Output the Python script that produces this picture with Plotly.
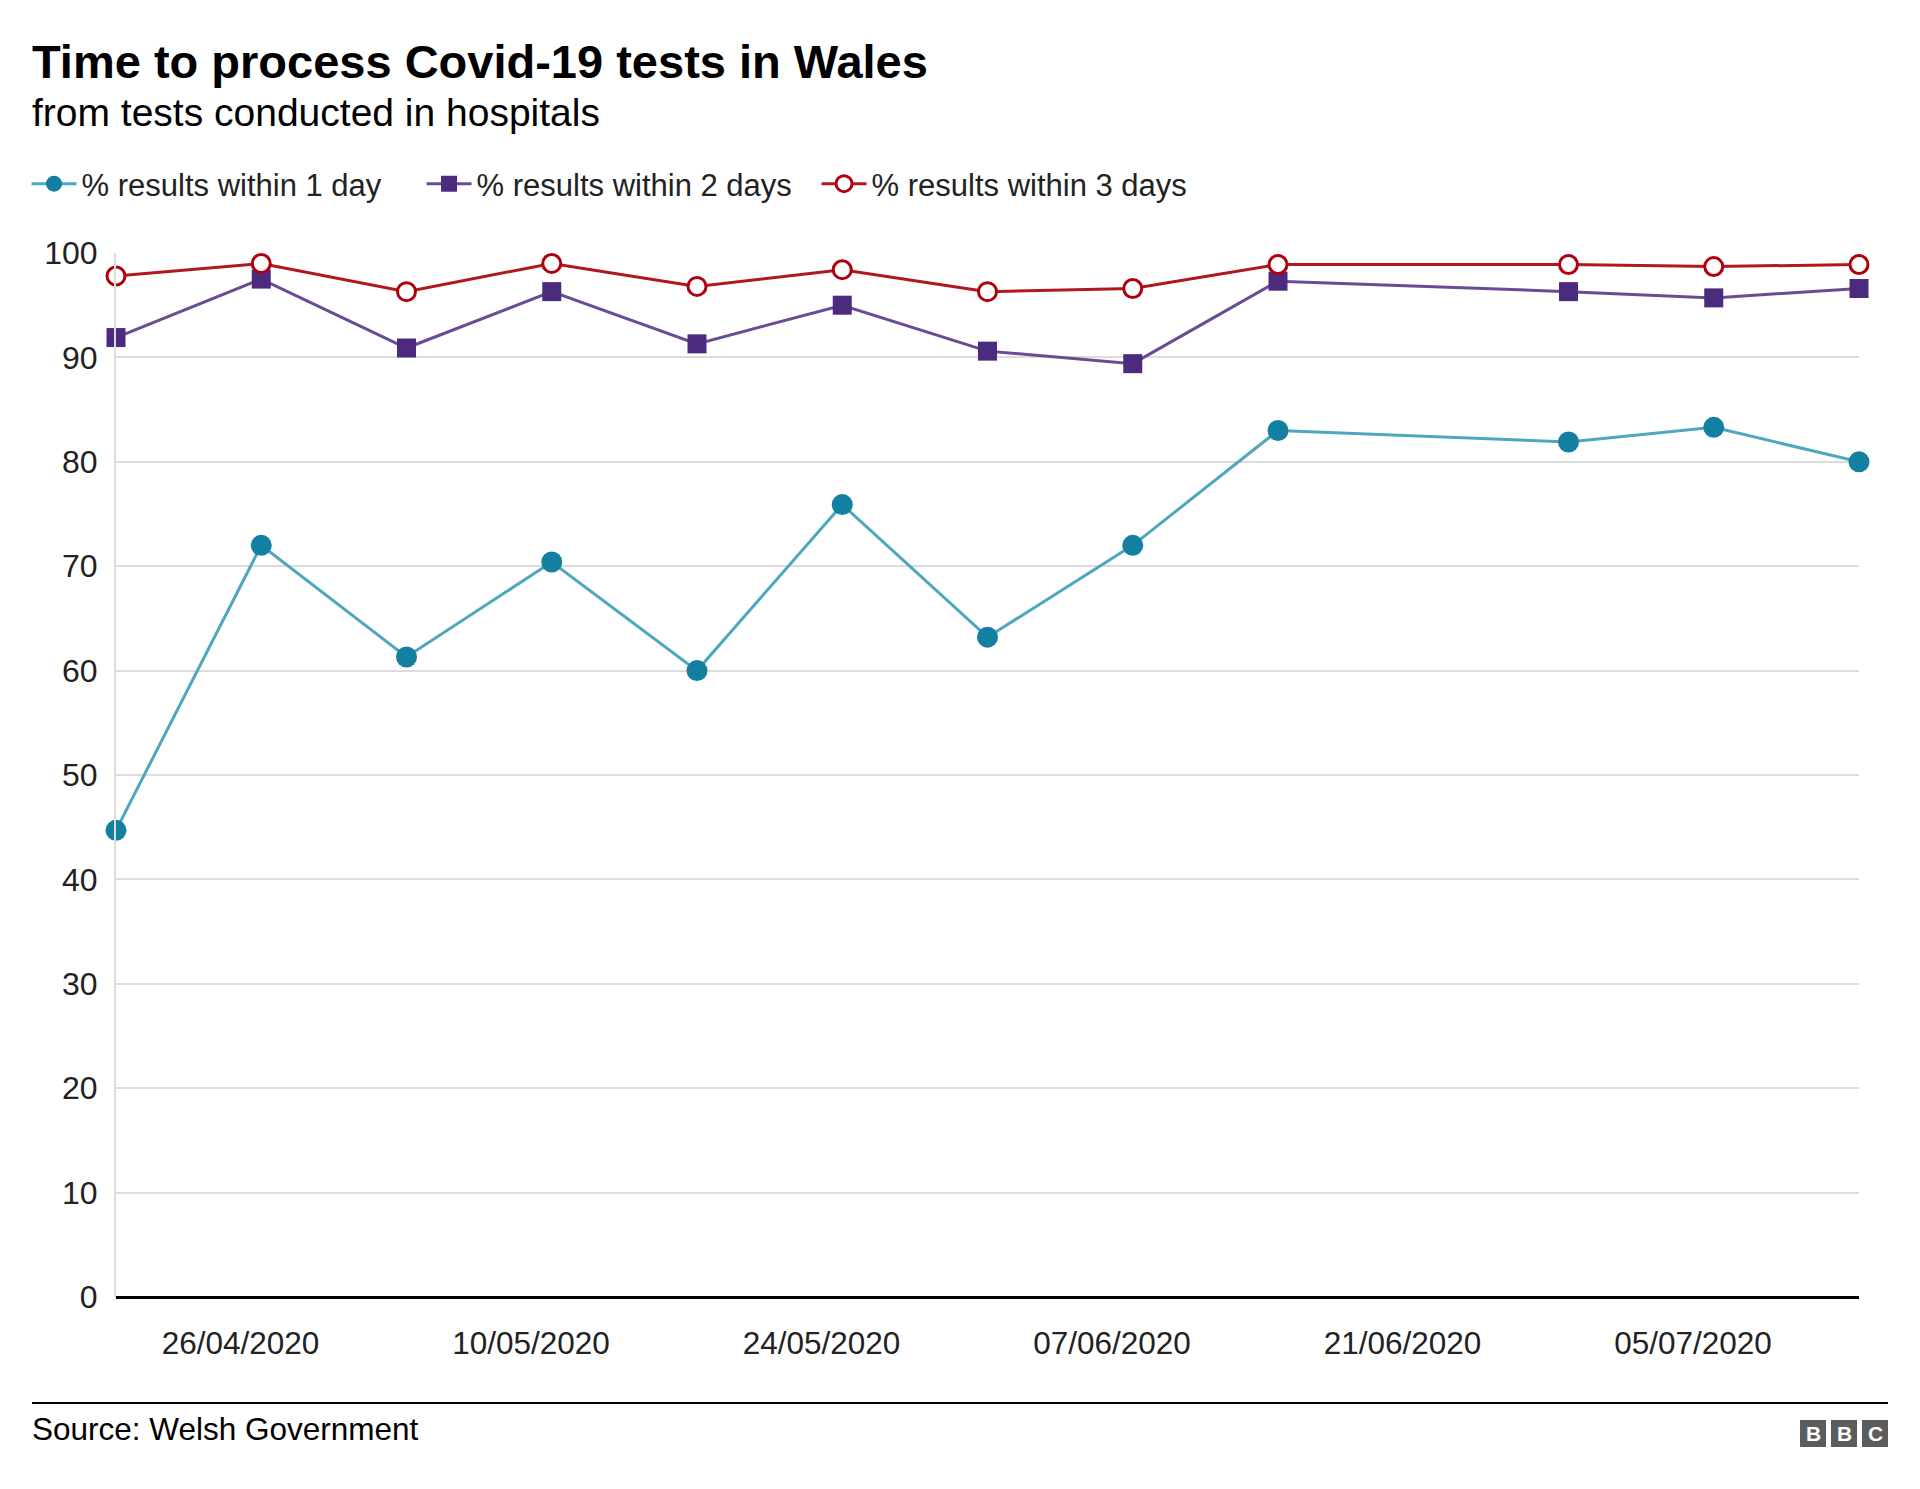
import plotly.graph_objects as go

dates = ["2020-04-20", "2020-04-27", "2020-05-04", "2020-05-11", "2020-05-18", "2020-05-25",
         "2020-06-01", "2020-06-08", "2020-06-15", "2020-06-29", "2020-07-06", "2020-07-13"]
within_1_day = [44.7, 72.0, 61.3, 70.4, 60.0, 75.9, 63.2, 72.0, 83.0, 81.9, 83.3, 80.0]
within_2_days = [91.9, 97.5, 90.9, 96.3, 91.3, 95.0, 90.6, 89.4, 97.3, 96.3, 95.7, 96.6]
within_3_days = [97.8, 99.0, 96.3, 99.0, 96.8, 98.4, 96.3, 96.6, 98.9, 98.9, 98.7, 98.9]
series_names = ["% results within 1 day", "% results within 2 days", "% results within 3 days"]
x_tick_dates = ["2020-04-26", "2020-05-10", "2020-05-24", "2020-06-07", "2020-06-21", "2020-07-05"]
y_ticks = [0, 10, 20, 30, 40, 50, 60, 70, 80, 90, 100]

FONT = "Liberation Sans, Arial, Helvetica, sans-serif"

# screen coords of plot area (page has 8px body margin)
PX0, PX1, PY0, PY1 = 116, 1859, 253, 1297
PW, PH = PX1 - PX0, PY1 - PY0


def px(x):
    return (x - PX0) / PW


def py(y):
    return (PY1 - y) / PH


fig = go.Figure()
fig.add_trace(go.Scatter(
    x=dates, y=within_1_day, name=series_names[0], mode="lines+markers",
    line=dict(color="#4ea7bf", width=3),
    marker=dict(symbol="circle", size=21, color="#1380A1", line=dict(width=0)),
    cliponaxis=False))
fig.add_trace(go.Scatter(
    x=dates, y=within_2_days, name=series_names[1], mode="lines+markers",
    line=dict(color="#6a4b94", width=3),
    marker=dict(symbol="square", size=19, color="#4c2a7e", line=dict(width=0)),
    cliponaxis=False))
fig.add_trace(go.Scatter(
    x=dates, y=within_3_days, name=series_names[2], mode="lines+markers",
    line=dict(color="#b0181c", width=3),
    marker=dict(symbol="circle", size=18, color="#ffffff", line=dict(width=3, color="#b0000e")),
    cliponaxis=False))

fig.update_layout(
    width=1920, height=1489,
    paper_bgcolor="white", plot_bgcolor="white",
    margin=dict(l=PX0 - 8, r=1920 - (PX1 - 8), t=PY0 - 8, b=1489 - (PY1 - 8)),
    font=dict(family=FONT, color="#222222", size=31),
    showlegend=True,
    legend=dict(orientation="h", x=px(37) - 0.006, xanchor="left", y=py(184), yanchor="middle",
                font=dict(size=31, color="#222222"), bgcolor="rgba(0,0,0,0)",
                itemwidth=45, entrywidth=335, entrywidthmode="pixels",
                itemsizing="trace", traceorder="normal"),
    xaxis=dict(type="date", range=["2020-04-20", "2020-07-13"],
               tickvals=x_tick_dates, tickformat="%d/%m/%Y",
               showgrid=False, zeroline=False, showline=False, ticks="",
               tickfont=dict(size=31.5, color="#222222"), ticklabelstandoff=24),
    yaxis=dict(range=[0, 100], tickvals=y_ticks, showgrid=True, gridcolor="#dcdcdc", gridwidth=2,
               zeroline=True, zerolinecolor="#000000", zerolinewidth=3,
               showline=True, linecolor="#dcdcdc", linewidth=2, ticks="",
               tickfont=dict(size=32, color="#222222"), ticklabelstandoff=10),
)

# Titles
fig.add_annotation(text="<b>Time to process Covid-19 tests in Wales</b>", xref="paper", yref="paper",
                   x=px(30), y=py(61), xanchor="left", yanchor="middle",
                   showarrow=False, font=dict(size=47, color="#000000", family=FONT))
fig.add_annotation(text="from tests conducted in hospitals", xref="paper", yref="paper",
                   x=px(30), y=py(113), xanchor="left", yanchor="middle",
                   showarrow=False, font=dict(size=39, color="#000000", family=FONT))
# Footer
fig.add_shape(type="line", xref="paper", yref="paper",
              x0=px(32), x1=px(1888), y0=py(1403), y1=py(1403),
              line=dict(color="#000000", width=2))
fig.add_annotation(text="Source: Welsh Government", xref="paper", yref="paper",
                   x=px(30), y=py(1429), xanchor="left", yanchor="middle",
                   showarrow=False, font=dict(size=31.5, color="#000000", family=FONT))
# BBC logo
for i, letter in enumerate(["B", "B", "C"]):
    x0 = 1800 + i * 31
    fig.add_shape(type="rect", xref="paper", yref="paper",
                  x0=px(x0), x1=px(x0 + 26), y0=py(1447), y1=py(1420),
                  fillcolor="#5c5c5c", line=dict(width=0))
    fig.add_annotation(text="<b>" + letter + "</b>", xref="paper", yref="paper",
                       x=px(x0 + 13), y=py(1433.5),
                       xanchor="center", yanchor="middle", showarrow=False,
                       font=dict(size=21, color="#ffffff", family=FONT))

fig.write_html("out.html")
